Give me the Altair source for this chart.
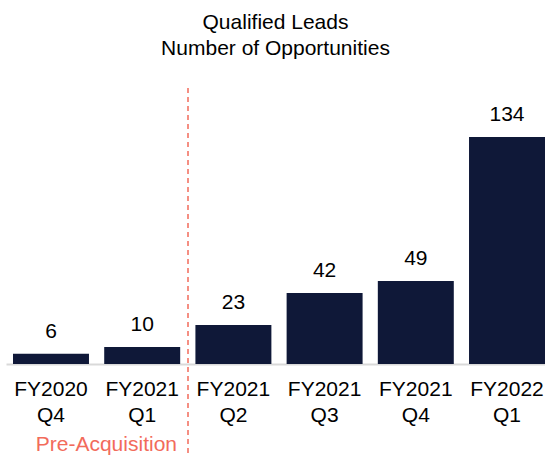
import altair as alt
import pandas as pd

quarters = ["FY2020 Q4", "FY2021 Q1", "FY2021 Q2", "FY2021 Q3", "FY2021 Q4", "FY2022 Q1"]
opportunities = [6, 10, 23, 42, 49, 134]
title_lines = ["Qualified Leads", "Number of Opportunities"]
note_text = "Pre-Acquisition"

df = pd.DataFrame({"quarter": quarters, "opps": opportunities})

FONT = "Liberation Sans"
NAVY = "#0f1838"
CORAL = "#f26b5b"

x = alt.X(
    "quarter:N",
    sort=quarters,
    scale=alt.Scale(paddingInner=0.167, paddingOuter=0.0384, align=1),
    axis=alt.Axis(
        title=None,
        ticks=False,
        labelAngle=0,
        labelExpr="split(datum.label, ' ')",
        labelFontSize=21,
        labelLineHeight=26,
        labelPadding=14,
        labelBaseline="top",
        labelColor="#000000",
        labelFont=FONT,
        domainColor="#d9d9d9",
        domainWidth=2,
        grid=False,
    ),
)
y = alt.Y("opps:Q", scale=alt.Scale(domain=[0, 163], nice=False), axis=None)

base = alt.Chart(df)

bars = base.mark_bar(color=NAVY).encode(x=x, y=y)

values = base.mark_text(
    dy=-16, baseline="alphabetic", fontSize=21, font=FONT, color="#000000"
).encode(x=x, y=y, text="opps:Q")

rule = alt.Chart(pd.DataFrame({"k": [0]})).mark_rule(
    color=CORAL, strokeDash=[5, 4], strokeWidth=1.5
).encode(x=alt.value(182), y=alt.value(0), y2=alt.value(368))

note = alt.Chart(pd.DataFrame({"t": [note_text]})).mark_text(
    align="right", baseline="alphabetic", fontSize=21, font=FONT, color=CORAL
).encode(x=alt.value(171), y=alt.value(363), text="t:N")

chart = (
    alt.layer(bars, values, rule, note)
    .properties(
        width=539,
        height=276,
        autosize=alt.AutoSizeParams(type="none"),
        padding={"left": 6, "top": 88, "right": 0, "bottom": 97},
        title=alt.TitleParams(
            text=title_lines,
            fontSize=21,
            font=FONT,
            fontWeight="normal",
            color="#000000",
            anchor="middle",
            lineHeight=26,
            offset=28,
        ),
    )
    .configure(background="#ffffff")
    .configure_view(strokeWidth=0, stroke="transparent")
)

chart.save("out.html", embed_options={"renderer": "svg", "actions": False})
